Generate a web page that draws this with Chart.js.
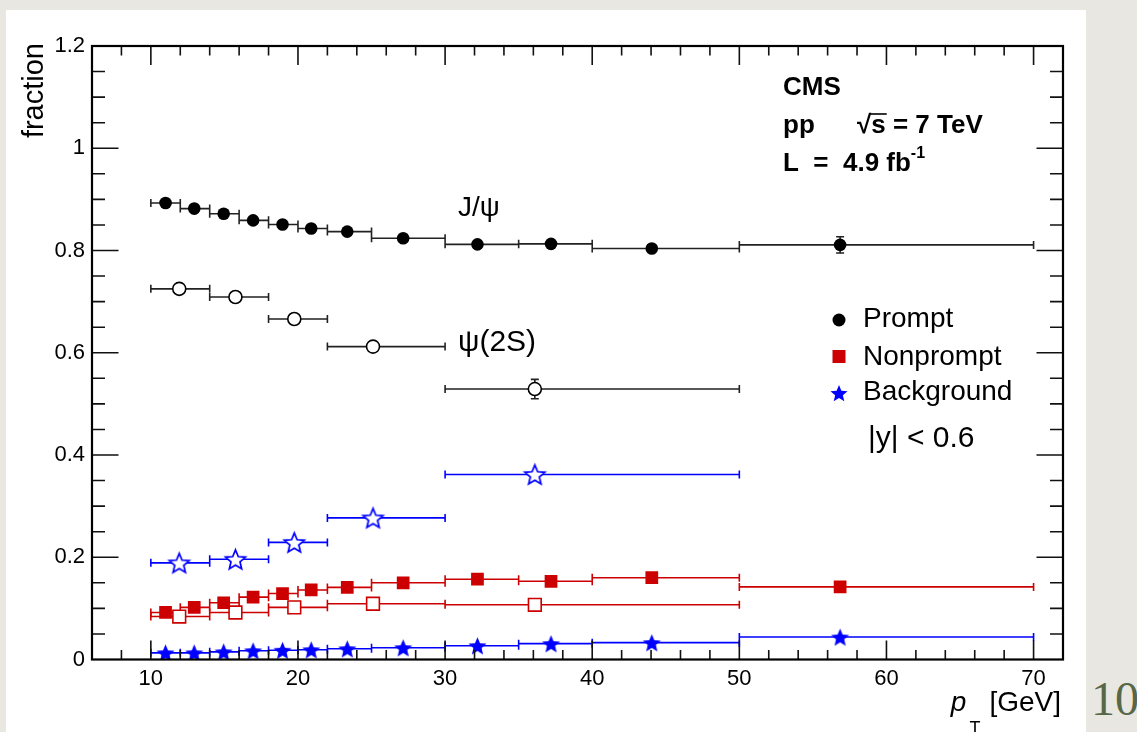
<!DOCTYPE html>
<html>
<head>
<meta charset="utf-8">
<title>Prompt / nonprompt / background fractions</title>
<script src="https://cdn.jsdelivr.net/npm/chart.js@4.4.1/dist/chart.umd.min.js"></script>
<style>
  html, body { margin: 0; padding: 0; }
  body { width: 1137px; height: 732px; background: #e9e7e1; position: relative; overflow: hidden; }
  .panel { position: absolute; left: 6px; top: 10px; width: 1080px; height: 722px; background: #fff; }
  .slide-no { position: absolute; left: 1091px; top: 671px; font-family: "Liberation Serif", serif; font-size: 48px; color: #566848; }
</style>
</head>
<body>
<div class="panel"><canvas id="fractionChart" width="1080" height="722"></canvas></div>
<div class="slide-no">10</div>
<script>
// axes
const xRange = [6, 72];
const yRange = [0, 1.2];
const xTickLabels = [10, 20, 30, 40, 50, 60, 70];
const yTickLabels = [0, 0.2, 0.4, 0.6, 0.8, 1, 1.2];

// J/psi bins (pT in GeV)
const jpsiBinLo = [10, 12, 14, 16, 18, 20, 22, 25, 30, 35, 40, 50];
const jpsiBinHi = [12, 14, 16, 18, 20, 22, 25, 30, 35, 40, 50, 70];
const jpsiPt = [11.0, 12.95, 14.95, 16.95, 18.95, 20.9, 23.35, 27.15, 32.2, 37.2, 44.05, 56.85];
const jpsiPrompt = [0.893, 0.882, 0.872, 0.859, 0.851, 0.843, 0.837, 0.824, 0.812, 0.813, 0.804, 0.811];
const jpsiPromptErr = [0.003, 0.003, 0.003, 0.003, 0.003, 0.003, 0.003, 0.004, 0.005, 0.006, 0.006, 0.016];
const jpsiNonprompt = [0.092, 0.102, 0.111, 0.122, 0.129, 0.136, 0.141, 0.150, 0.157, 0.153, 0.160, 0.142];
const jpsiBackground = [0.013, 0.013, 0.015, 0.017, 0.018, 0.019, 0.021, 0.023, 0.027, 0.031, 0.033, 0.044];

// psi(2S) bins
const psiBinLo = [10, 14, 18, 22, 30];
const psiBinHi = [14, 18, 22, 30, 50];
const psiPt = [11.93, 15.75, 19.75, 25.1, 36.1];
const psiPrompt = [0.725, 0.709, 0.666, 0.612, 0.529];
const psiPromptErr = [0.006, 0.007, 0.008, 0.008, 0.019];
const psiNonprompt = [0.084, 0.092, 0.102, 0.109, 0.107];
const psiBackground = [0.189, 0.196, 0.229, 0.277, 0.362];

const black = '#000000';
const red = '#cc0000';
const blue = '#0000ff';
const sans = '"Liberation Sans", Arial, Helvetica, sans-serif';

Chart.defaults.font.family = sans;
Chart.defaults.color = '#000';

function toPoints(xs, ys) {
    return xs.map((x, i) => ({ x: x, y: ys[i] }));
}

function starPath(ctx, cx, cy, R, r) {
    ctx.beginPath();
    for (let i = 0; i < 10; i++) {
        const rad = i % 2 === 0 ? R : r;
        const a = -Math.PI / 2 + i * Math.PI / 5;
        const px = cx + rad * Math.cos(a);
        const py = cy + rad * Math.sin(a);
        if (i === 0) ctx.moveTo(px, py); else ctx.lineTo(px, py);
    }
    ctx.closePath();
}

// star markers as small canvases so chart.js can use them as pointStyle
function makeStar(R, fill, stroke) {
    const c = document.createElement('canvas');
    c.width = c.height = Math.ceil(2 * R + 6);
    const g = c.getContext('2d');
    starPath(g, c.width / 2, c.height / 2 + R * 0.1, R, R * 0.45);
    g.fillStyle = fill;
    g.fill();
    if (stroke) {
        g.strokeStyle = stroke;
        g.lineWidth = 1.7;
        g.stroke();
    }
    return c;
}

const fullStar = makeStar(9.5, blue);
const openStar = makeStar(10.5, '#fff', blue);

// horizontal bin-width bars + vertical stat errors, ROOT style
const errorBars = {
    id: 'errorBars',
    beforeDatasetsDraw(chart) {
        const { ctx, scales: { x, y } } = chart;
        ctx.save();
        chart.data.datasets.forEach(ds => {
            ctx.strokeStyle = ds.barColor;
            ctx.lineWidth = 1.6;
            ctx.beginPath();
            ds.data.forEach((p, i) => {
                const py = y.getPixelForValue(p.y);
                const x0 = x.getPixelForValue(ds.binLo[i]);
                const x1 = x.getPixelForValue(ds.binHi[i]);
                ctx.moveTo(x0, py); ctx.lineTo(x1, py);
                ctx.moveTo(x0, py - 4); ctx.lineTo(x0, py + 4);
                ctx.moveTo(x1, py - 4); ctx.lineTo(x1, py + 4);
                if (ds.yErr) {
                    const px = x.getPixelForValue(p.x);
                    const ya = y.getPixelForValue(p.y + ds.yErr[i]);
                    const yb = y.getPixelForValue(p.y - ds.yErr[i]);
                    ctx.moveTo(px, ya); ctx.lineTo(px, yb);
                    ctx.moveTo(px - 4, ya); ctx.lineTo(px + 4, ya);
                    ctx.moveTo(px - 4, yb); ctx.lineTo(px + 4, yb);
                }
            });
            ctx.stroke();
        });
        ctx.restore();
    }
};

// frame with inward ticks on all four sides
const rootFrame = {
    id: 'rootFrame',
    afterDraw(chart) {
        const { ctx, chartArea: a, scales: { x, y } } = chart;
        ctx.save();
        ctx.strokeStyle = '#111';
        ctx.lineWidth = 1.6;
        ctx.beginPath();
        for (let v = 8; v < xRange[1]; v += 2) {
            const px = x.getPixelForValue(v);
            const len = xTickLabels.includes(v) ? 19 : 9.5;
            ctx.moveTo(px, a.bottom); ctx.lineTo(px, a.bottom - len);
            ctx.moveTo(px, a.top); ctx.lineTo(px, a.top + len);
        }
        for (let k = 1; k < 24; k++) {
            const py = y.getPixelForValue(k * 0.05);
            const len = k % 4 === 0 ? 26.5 : 13;
            ctx.moveTo(a.left, py); ctx.lineTo(a.left + len, py);
            ctx.moveTo(a.right, py); ctx.lineTo(a.right - len, py);
        }
        ctx.stroke();
        ctx.lineWidth = 2.2;
        ctx.strokeStyle = '#000';
        ctx.strokeRect(a.left, a.top, a.right - a.left, a.bottom - a.top);
        ctx.restore();
    }
};

// titles, labels and legend
const annotations = {
    id: 'annotations',
    afterDraw(chart) {
        const { ctx, chartArea: a } = chart;
        ctx.save();
        ctx.fillStyle = '#000';
        ctx.textBaseline = 'alphabetic';

        // y title
        ctx.save();
        ctx.translate(a.left - 49, a.top - 3);
        ctx.rotate(-Math.PI / 2);
        ctx.textAlign = 'right';
        ctx.font = '29px ' + sans;
        ctx.fillText('fraction', 0, 0);
        ctx.restore();

        // x title: p_T [GeV]
        ctx.textAlign = 'right';
        ctx.font = '28px ' + sans;
        const gx = a.right - 2;
        ctx.fillText('[GeV]', gx, 701);
        const gw = ctx.measureText('[GeV]').width;
        ctx.font = '18px ' + sans;
        ctx.fillText('T', gx - gw - 9, 724);
        const tw = ctx.measureText('T').width;
        ctx.font = 'italic 28px ' + sans;
        ctx.fillText('p', gx - gw - 9 - tw - 3, 701);

        // CMS block
        ctx.textAlign = 'left';
        ctx.font = 'bold 26px ' + sans;
        ctx.fillText('CMS', 777, 85);
        ctx.fillText('pp', 777, 123);
        ctx.fillText('\u221As = 7 TeV', 851, 123);
        const rw = ctx.measureText('\u221A').width;
        const sw = ctx.measureText('s').width;
        ctx.lineWidth = 1.6;
        ctx.beginPath();
        ctx.moveTo(851 + rw - 1, 104); ctx.lineTo(851 + rw + sw + 1, 104);
        ctx.stroke();
        ctx.fillText('L  =  4.9 fb', 777, 161);
        const lw = ctx.measureText('L  =  4.9 fb').width;
        ctx.font = 'bold 16px ' + sans;
        ctx.fillText('-1', 777 + lw, 148);

        // particle labels
        ctx.font = '28px ' + sans;
        ctx.fillText('J/\u03C8', 452, 206);
        ctx.font = '30px ' + sans;
        ctx.fillText('\u03C8(2S)', 452, 341);

        // legend
        ctx.fillStyle = black;
        ctx.beginPath();
        ctx.arc(833, 310, 6.5, 0, Math.PI * 2);
        ctx.fill();
        ctx.fillStyle = red;
        ctx.fillRect(826.5, 340, 13, 13);
        ctx.fillStyle = blue;
        starPath(ctx, 833, 384, 9, 9 * 0.45);
        ctx.fill();

        ctx.fillStyle = '#000';
        ctx.font = '28px ' + sans;
        ctx.fillText('Prompt', 857, 317);
        ctx.fillText('Nonprompt', 857, 355);
        ctx.fillText('Background', 857, 390);
        ctx.font = '30px ' + sans;
        ctx.fillText('|y| < 0.6', 862, 437);
        ctx.restore();
    }
};

new Chart(document.getElementById('fractionChart'), {
    type: 'scatter',
    data: {
        datasets: [
            {
                label: 'J/psi prompt',
                data: toPoints(jpsiPt, jpsiPrompt),
                binLo: jpsiBinLo, binHi: jpsiBinHi, yErr: jpsiPromptErr, barColor: '#222',
                pointStyle: 'circle', pointRadius: 6.3,
                backgroundColor: black, borderColor: black, borderWidth: 0
            },
            {
                label: 'psi(2S) prompt',
                data: toPoints(psiPt, psiPrompt),
                binLo: psiBinLo, binHi: psiBinHi, yErr: psiPromptErr, barColor: '#222',
                pointStyle: 'circle', pointRadius: 6.5,
                backgroundColor: '#fff', borderColor: black, borderWidth: 1.6
            },
            {
                label: 'J/psi nonprompt',
                data: toPoints(jpsiPt, jpsiNonprompt),
                binLo: jpsiBinLo, binHi: jpsiBinHi, barColor: red,
                pointStyle: 'rect', pointRadius: 9,
                backgroundColor: red, borderColor: red, borderWidth: 0
            },
            {
                label: 'psi(2S) nonprompt',
                data: toPoints(psiPt, psiNonprompt),
                binLo: psiBinLo, binHi: psiBinHi, barColor: red,
                pointStyle: 'rect', pointRadius: 9,
                backgroundColor: '#fff', borderColor: red, borderWidth: 1.6
            },
            {
                label: 'J/psi background',
                data: toPoints(jpsiPt, jpsiBackground),
                binLo: jpsiBinLo, binHi: jpsiBinHi, barColor: blue,
                pointStyle: fullStar, pointRadius: 9
            },
            {
                label: 'psi(2S) background',
                data: toPoints(psiPt, psiBackground),
                binLo: psiBinLo, binHi: psiBinHi, barColor: blue,
                pointStyle: openStar, pointRadius: 10
            }
        ]
    },
    options: {
        responsive: false,
        animation: false,
        layout: {
            padding: { left: 0, top: 36, right: 23, bottom: 0 }
        },
        plugins: {
            legend: { display: false },
            tooltip: { enabled: false }
        },
        scales: {
            x: {
                type: 'linear',
                min: xRange[0],
                max: xRange[1],
                grid: { display: false, drawTicks: false },
                border: { display: false },
                ticks: {
                    autoSkip: false,
                    maxRotation: 0,
                    padding: 6,
                    font: { size: 22 },
                    color: '#000'
                },
                afterBuildTicks: s => { s.ticks = xTickLabels.map(v => ({ value: v })); },
                afterFit: s => { s.height = 72.5; }
            },
            y: {
                type: 'linear',
                min: yRange[0],
                max: yRange[1],
                grid: { display: false, drawTicks: false },
                border: { display: false },
                ticks: {
                    autoSkip: false,
                    padding: 7,
                    font: { size: 22 },
                    color: '#000',
                    callback: v => String(v)
                },
                afterBuildTicks: s => { s.ticks = yTickLabels.map(v => ({ value: v })); },
                afterFit: s => { s.width = 86; }
            }
        }
    },
    plugins: [errorBars, rootFrame, annotations]
});
</script>
</body>
</html>
